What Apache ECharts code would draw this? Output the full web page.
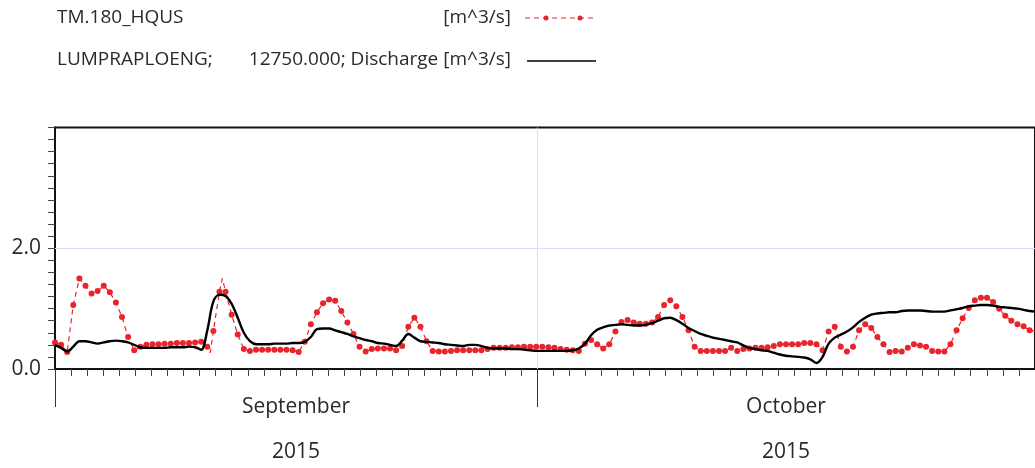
<!DOCTYPE html>
<html>
<head>
<meta charset="utf-8">
<title>TM.180 discharge, September–October 2015</title>
<script src="https://cdn.jsdelivr.net/npm/echarts@6/dist/echarts.min.js"></script>
<style>
  html, body { margin: 0; padding: 0; background: #fff; }
  #chart { width: 1035px; height: 468px; }
</style>
</head>
<body>
<div id="chart"></div>
<script>
// Series names and units shown in the legend block
const seriesNames = ['TM.180_HQUS', 'LUMPRAPLOENG;'];
const seriesDetail = ['[m^3/s]', '12750.000; Discharge [m^3/s]'];

// Month captions under the time axis
const monthLabels = ['September', 'October'];
const yearLabels = ['2015', '2015'];
const yTickLabels = [0, 2];

// Samples start on 1 Sep 2015, one every 546 minutes
const startDate = new Date(2015, 8, 1, 0, 0, 0).getTime();
const endDate = new Date(2015, 10, 1, 0, 0, 0).getTime();
const sampleMinutes = 546;

// Gauge TM.180 discharge (m^3/s), marked samples
const hqusValues = [
  0.44, 0.40, 0.28, 1.06, 1.50, 1.38, 1.25, 1.29, 1.38, 1.27,
  1.10, 0.86, 0.53, 0.31, 0.37, 0.40, 0.41, 0.41, 0.42, 0.42,
  0.43, 0.43, 0.43, 0.44, 0.45, 0.37, 0.63, 1.28, 1.28, 0.90,
  0.57, 0.33, 0.30, 0.32, 0.32, 0.32, 0.32, 0.32, 0.32, 0.31,
  0.28, 0.45, 0.74, 0.94, 1.09, 1.15, 1.13, 0.96, 0.77, 0.58,
  0.37, 0.29, 0.33, 0.34, 0.34, 0.34, 0.31, 0.38, 0.70, 0.85,
  0.70, 0.46, 0.30, 0.29, 0.29, 0.30, 0.31, 0.31, 0.31, 0.31,
  0.31, 0.33, 0.35, 0.35, 0.35, 0.36, 0.36, 0.37, 0.37, 0.37,
  0.37, 0.36, 0.35, 0.33, 0.32, 0.31, 0.30, 0.42, 0.48, 0.41,
  0.34, 0.41, 0.62, 0.78, 0.81, 0.77, 0.75, 0.75, 0.77, 0.86,
  1.06, 1.14, 1.04, 0.86, 0.64, 0.37, 0.30, 0.30, 0.30, 0.30,
  0.30, 0.35, 0.30, 0.33, 0.34, 0.35, 0.35, 0.36, 0.38, 0.41,
  0.41, 0.41, 0.41, 0.43, 0.43, 0.41, 0.31, 0.62, 0.70, 0.37,
  0.29, 0.37, 0.64, 0.74, 0.68, 0.53, 0.41, 0.28, 0.30, 0.29,
  0.35, 0.41, 0.39, 0.37, 0.30, 0.29, 0.29, 0.41, 0.64, 0.84,
  1.01, 1.14, 1.18, 1.18, 1.11, 1.00, 0.88, 0.80, 0.74, 0.71,
  0.64, 0.62
];

// Unmarked vertices of the TM.180 trace (flood peak of 10-11 Sep)
const hqusExtraTimes = ['2015-09-10 16:00', '2015-09-11 10:00'];
const hqusExtraValues = [0.27, 1.50];

// Lumpraploeng simulated discharge (m^3/s), same sampling
const lumpValues = [
  0.40, 0.35, 0.29, 0.37, 0.46, 0.46, 0.44, 0.42, 0.44, 0.46,
  0.47, 0.46, 0.44, 0.40, 0.36, 0.35, 0.35, 0.35, 0.35, 0.36,
  0.36, 0.36, 0.37, 0.36, 0.32, 0.64, 1.12, 1.23, 1.21, 1.08,
  0.85, 0.60, 0.46, 0.41, 0.41, 0.41, 0.42, 0.42, 0.42, 0.43,
  0.43, 0.45, 0.53, 0.66, 0.67, 0.67, 0.64, 0.61, 0.58, 0.54,
  0.51, 0.48, 0.46, 0.43, 0.42, 0.40, 0.38, 0.47, 0.58, 0.52,
  0.46, 0.45, 0.44, 0.43, 0.41, 0.40, 0.39, 0.38, 0.40, 0.40,
  0.38, 0.35, 0.34, 0.34, 0.34, 0.33, 0.33, 0.32, 0.31, 0.30,
  0.30, 0.30, 0.30, 0.30, 0.30, 0.31, 0.34, 0.42, 0.56, 0.65,
  0.69, 0.72, 0.73, 0.74, 0.73, 0.72, 0.72, 0.73, 0.76, 0.80,
  0.84, 0.85, 0.81, 0.75, 0.68, 0.63, 0.58, 0.55, 0.52, 0.50,
  0.48, 0.46, 0.44, 0.39, 0.35, 0.33, 0.31, 0.30, 0.27, 0.24,
  0.22, 0.21, 0.20, 0.19, 0.16, 0.10, 0.20, 0.42, 0.52, 0.57,
  0.62, 0.69, 0.78, 0.85, 0.90, 0.92, 0.93, 0.94, 0.94, 0.96,
  0.97, 0.97, 0.97, 0.96, 0.95, 0.95, 0.95, 0.97, 0.99, 1.01,
  1.04, 1.05, 1.06, 1.06, 1.05, 1.03, 1.02, 1.01, 1.00, 0.98,
  0.96, 0.95
];

const RED = '#e8242c';
const TEXT = '#2a2a2a';
const FONT = '"Open Sans", "Noto Sans", sans-serif';
const DAY = 86400000;

function parseLocal(s) {
  const [d, t] = s.split(' ');
  const [y, m, day] = d.split('-').map(Number);
  const [hh, mm] = t.split(':').map(Number);
  return new Date(y, m - 1, day, hh, mm).getTime();
}

const sampleTimes = hqusValues.map((_, i) => startDate + i * sampleMinutes * 60000);

// Marked samples plus the unmarked peak vertices, in time order
const hqusData = hqusValues.map((v, i) => ({ value: [sampleTimes[i], v] }))
  .concat(hqusExtraTimes.map((s, i) => ({ value: [parseLocal(s), hqusExtraValues[i]], symbol: 'none' })))
  .sort((a, b) => a.value[0] - b.value[0]);
const lumpData = lumpValues.map((v, i) => [sampleTimes[i], v]);

// Daily ticks, month boundary ticks and mid-month caption positions
const dayTicks = [];
for (let t = startDate; t <= endDate; t += DAY) dayTicks.push(t);
const monthStarts = [startDate, new Date(2015, 9, 1).getTime(), endDate];
const monthMids = monthLabels.map((_, i) => (monthStarts[i] + monthStarts[i + 1]) / 2);
const octStart = monthStarts[1];

function monthCaption(val) {
  let i = 0, best = Infinity;
  monthMids.forEach((m, k) => { const d = Math.abs(m - val); if (d < best) { best = d; i = k; } });
  return '{m|' + monthLabels[i] + '}\n{y|' + yearLabels[i] + '}';
}

const chart = echarts.init(document.getElementById('chart'), null, { renderer: 'canvas' });

chart.setOption({
  animation: false,
  backgroundColor: '#fff',
  grid: {
    left: 55, right: -2, top: 127.5, bottom: 99,
    show: true, borderColor: '#111', borderWidth: 2, backgroundColor: 'transparent'
  },
  xAxis: [
    {
      type: 'value', min: startDate, max: endDate, scale: true,
      axisLine: { show: true, lineStyle: { color: '#111', width: 2 } },
      axisTick: { show: true, customValues: dayTicks, length: 7, lineStyle: { color: '#444', width: 1 } },
      splitLine: { show: false },
      axisLabel: {
        show: true, customValues: monthMids, margin: 16, hideOverlap: false,
        formatter: monthCaption,
        rich: {
          m: { fontSize: 21, lineHeight: 45, fontFamily: FONT, color: TEXT },
          y: { fontSize: 21, lineHeight: 45, fontFamily: FONT, color: TEXT }
        }
      }
    },
    {
      type: 'value', min: startDate, max: endDate, scale: true, position: 'bottom',
      axisLine: { show: false },
      axisTick: { show: true, customValues: monthStarts, length: 38, lineStyle: { color: '#333', width: 1 } },
      axisLabel: { show: false },
      splitLine: { show: false }
    }
  ],
  yAxis: {
    type: 'value', min: 0, max: 4, interval: 0.2,
    axisLine: { show: true, lineStyle: { color: '#111', width: 2 } },
    axisTick: { show: true, length: 7, lineStyle: { color: '#444', width: 1 } },
    splitLine: { show: false },
    axisLabel: {
      customValues: yTickLabels, margin: 14,
      formatter: v => Number(v).toFixed(1),
      fontSize: 21, fontFamily: FONT, color: TEXT
    }
  },
  series: [
    {
      name: seriesNames[0], type: 'line', xAxisIndex: 0, data: hqusData,
      symbol: 'circle', symbolSize: 6, showAllSymbol: true,
      itemStyle: { color: RED },
      lineStyle: { color: RED, width: 1.2, type: [5, 4] },
      z: 3
    },
    {
      name: seriesNames[1], type: 'line', xAxisIndex: 0, data: lumpData,
      symbol: 'none', smooth: 0.35,
      lineStyle: { color: '#000', width: 2.4 },
      z: 4,
      markLine: {
        silent: true, symbol: 'none', label: { show: false },
        lineStyle: { color: '#d3e1f3', width: 1, type: 'solid' },
        data: [{ yAxis: 2 }, { xAxis: octStart }],
        z: 1
      }
    }
  ],
  graphic: [
    { type: 'text', style: { x: 57, y: 18, text: seriesNames[0], font: '19px ' + FONT, fill: TEXT, verticalAlign: 'middle' } },
    { type: 'text', style: { x: 511, y: 18, text: seriesDetail[0], font: '19px ' + FONT, fill: TEXT, align: 'right', verticalAlign: 'middle' } },
    { type: 'line', shape: { x1: 525, y1: 18, x2: 595, y2: 18 }, style: { stroke: RED, lineWidth: 1.2, lineDash: [5, 4] } },
    { type: 'circle', shape: { cx: 546, cy: 18, r: 2.5 }, style: { fill: RED } },
    { type: 'circle', shape: { cx: 580, cy: 18, r: 2.5 }, style: { fill: RED } },
    { type: 'text', style: { x: 57, y: 60, text: seriesNames[1], font: '19px ' + FONT, fill: TEXT, verticalAlign: 'middle' } },
    { type: 'text', style: { x: 511, y: 60, text: seriesDetail[1], font: '19px ' + FONT, fill: TEXT, align: 'right', verticalAlign: 'middle' } },
    { type: 'line', shape: { x1: 527, y1: 61, x2: 596, y2: 61 }, style: { stroke: '#000', lineWidth: 1.5 } }
  ]
});
</script>
</body>
</html>
